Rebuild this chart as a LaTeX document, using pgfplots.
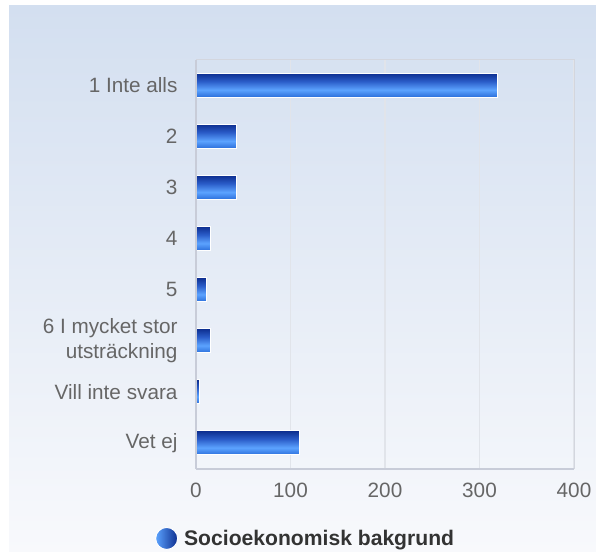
\documentclass[border=0pt]{standalone}
\usepackage{fontspec}
\setmainfont{Liberation Sans}
\usepackage{pgfplots}
\pgfplotsset{compat=1.18}
\definecolor{bgtop}{HTML}{D3DFF0}
\definecolor{bgbot}{HTML}{F8F9FC}
\definecolor{tickgray}{HTML}{666666}
\definecolor{leggray}{HTML}{333333}
\definecolor{gridgray}{HTML}{E1E4EA}
\definecolor{axgray}{HTML}{D3D6DE}
\definecolor{axdark}{HTML}{C8CCD8}
\definecolor{bdark}{HTML}{0D2E8F}
\definecolor{bmid}{HTML}{2A5CC8}
\definecolor{blight}{HTML}{5CA3FF}
\definecolor{bbot}{HTML}{2C6FDB}
\pgfdeclareverticalshading{barshade}{100bp}{color(0bp)=(bbot); color(25bp)=(bbot); color(40bp)=(blight); color(58bp)=(bmid); color(75bp)=(bdark); color(100bp)=(bdark)}
\begin{document}
\begin{tikzpicture}[x=1bp,y=1bp]
\fill[white] (0,0) rectangle (596,-552);
\shade[top color=bgtop, bottom color=bgbot] (9,-6) rectangle (596,-552);
\begin{axis}[
  at={(196bp,-59.5bp)}, anchor=north west,
  scale only axis, width=378bp, height=409bp,
  xmin=0, xmax=400, ymin=-0.5, ymax=7.5, y dir=reverse,
  xtick={0,100,200,300,400},
  ytick={0,...,7},
  yticklabels={1 Inte alls,2,3,4,5,{6 I mycket stor\\utsträckning},Vill inte svara,Vet ej},
  yticklabel style={align=right, xshift=-15bp, yshift=0bp},
  xticklabel style={yshift=-11bp},
  tick label style={font=\fontsize{20.8}{25}\selectfont, text=tickgray},
  /pgf/number format/assume math mode=true,
  major tick length=0pt,
  xmajorgrids, grid style={draw=gridgray, line width=1.5bp},
  axis line style={draw=axgray, line width=1bp},
  after end axis/.code={
    \draw[axdark, line width=2bp] (rel axis cs:0,0) -- (rel axis cs:0,1);
    \draw[axdark, line width=2bp] (rel axis cs:0,0) -- (rel axis cs:1,0);
  },
  legend style={draw=none, fill=none, at={(0.290,-0.171)}, anchor=center,
    font=\bfseries\fontsize{21.2}{25}\selectfont, text=leggray},
  legend image code/.code={\shade[left color=blight, right color=bdark] (0bp,0bp) circle (11bp); \path (15bp,0bp);},
]
\addplot[xbar, bar width=24bp, bar shift=0pt, shade, shading=barshade, draw=white, line width=1bp, forget plot] coordinates {(319,0)};
\addplot[xbar, bar width=24bp, bar shift=0pt, shade, shading=barshade, draw=white, line width=1bp, forget plot] coordinates {(43,1)};
\addplot[xbar, bar width=24bp, bar shift=0pt, shade, shading=barshade, draw=white, line width=1bp, forget plot] coordinates {(43,2)};
\addplot[xbar, bar width=24bp, bar shift=0pt, shade, shading=barshade, draw=white, line width=1bp, forget plot] coordinates {(15,3)};
\addplot[xbar, bar width=24bp, bar shift=0pt, shade, shading=barshade, draw=white, line width=1bp, forget plot] coordinates {(11,4)};
\addplot[xbar, bar width=24bp, bar shift=0pt, shade, shading=barshade, draw=white, line width=1bp, forget plot] coordinates {(15,5)};
\addplot[xbar, bar width=24bp, bar shift=0pt, shade, shading=barshade, draw=white, line width=1bp, forget plot] coordinates {(4,6)};
\addplot[xbar, bar width=24bp, bar shift=0pt, shade, shading=barshade, draw=white, line width=1bp] coordinates {(110,7)};
\addlegendentry{Socioekonomisk bakgrund}
\end{axis}
\end{tikzpicture}
\end{document}
